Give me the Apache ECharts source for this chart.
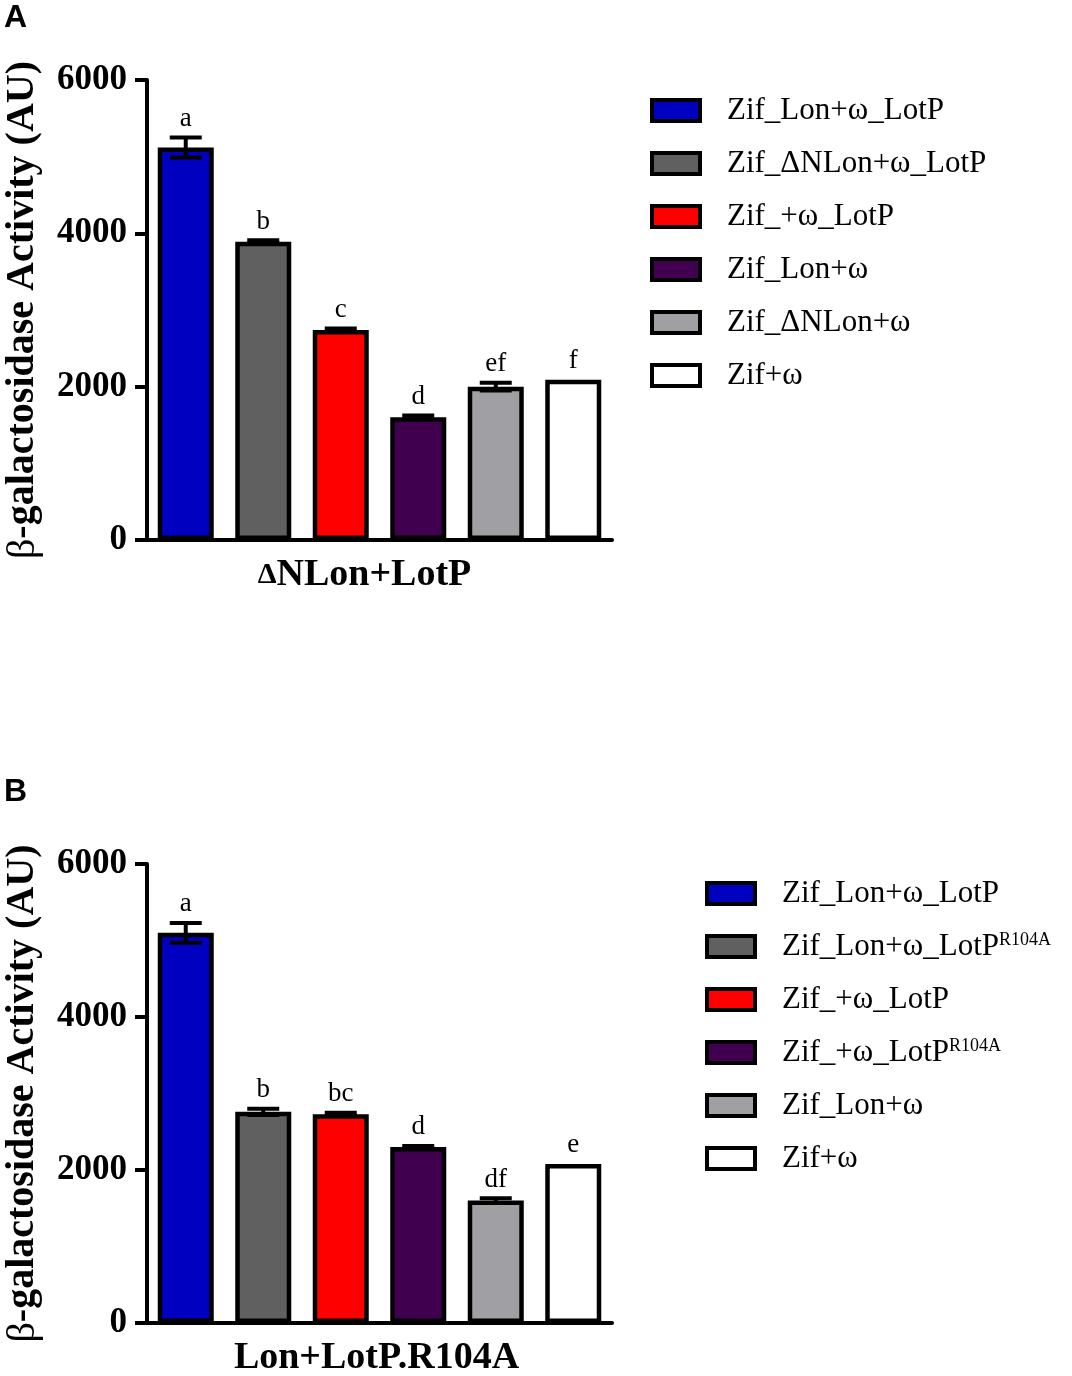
<!DOCTYPE html>
<html>
<head>
<meta charset="utf-8">
<script src="https://cdn.jsdelivr.net/npm/echarts@6/dist/echarts.min.js"></script>
<style>
  html, body { margin: 0; padding: 0; background: #fff; }
  #main { width: 1072px; height: 1376px; }
</style>
</head>
<body>
<div id="main"></div>
<script>
// panel A
var namesA = ['Zif_Lon+ω_LotP', 'Zif_ΔNLon+ω_LotP', 'Zif_+ω_LotP', 'Zif_Lon+ω', 'Zif_ΔNLon+ω', 'Zif+ω'];
var valuesA = [5120, 3890, 2740, 1600, 2000, 2090];
var errorsA = [130, 20, 20, 25, 50, 0];
var lettersA = ['a', 'b', 'c', 'd', 'ef', 'f'];
var colorsA = ['#0000c0', '#606060', '#ff0000', '#40004f', '#a0a0a4', '#ffffff'];

// panel B
var namesB = ['Zif_Lon+ω_LotP', 'Zif_Lon+ω_LotP^R104A', 'Zif_+ω_LotP', 'Zif_+ω_LotP^R104A', 'Zif_Lon+ω', 'Zif+ω'];
var valuesB = [5100, 2760, 2730, 2300, 1600, 2080];
var errorsB = [130, 40, 20, 15, 30, 0];
var lettersB = ['a', 'b', 'bc', 'd', 'df', 'e'];
var colorsB = ['#0000c0', '#606060', '#ff0000', '#40004f', '#a0a0a4', '#ffffff'];

var yTicks = { min: 0, max: 6000, interval: 2000 };
var serif = '"Liberation Serif", "Times New Roman", serif';

var myChart = echarts.init(document.getElementById('main'), null, { renderer: 'canvas' });

function barSeries(panel, names, values, colors, axisIdx) {
    return names.map(function (n, i) {
        var d = values.map(function (v, j) { return j === i ? v : null; });
        return {
            name: panel + '#' + n,
            type: 'bar',
            xAxisIndex: axisIdx,
            yAxisIndex: axisIdx,
            data: d,
            barWidth: 56,
            barGap: '-100%',
            itemStyle: { color: colors[i], borderColor: '#000', borderWidth: 4.5 },
            z: 2
        };
    });
}

function errorSeries(values, errors, letters, axisIdx) {
    return {
        type: 'custom',
        xAxisIndex: axisIdx,
        yAxisIndex: axisIdx,
        data: values.map(function (v, i) { return [i, v, errors[i]]; }),
        z: 5,
        silent: true,
        renderItem: function (params, api) {
            var i = api.value(0), v = api.value(1), e = api.value(2);
            var top = api.coord([i, v + e]);
            var bot = api.coord([i, v - e]);
            var half = 16;
            var kids = [];
            if (e > 0) {
                var st = { stroke: '#000', lineWidth: 4 };
                kids.push({ type: 'line', shape: { x1: top[0], y1: top[1], x2: bot[0], y2: bot[1] }, style: st });
                kids.push({ type: 'line', shape: { x1: top[0] - half, y1: top[1], x2: top[0] + half, y2: top[1] }, style: st });
                kids.push({ type: 'line', shape: { x1: bot[0] - half, y1: bot[1], x2: bot[0] + half, y2: bot[1] }, style: st });
            }
            kids.push({
                type: 'text',
                x: top[0],
                y: top[1] - 5,
                style: {
                    text: letters[params.dataIndex],
                    fill: '#000',
                    fontSize: 27,
                    fontFamily: serif,
                    align: 'center',
                    verticalAlign: 'bottom'
                }
            });
            return { type: 'group', children: kids };
        }
    };
}

function yAxis(gridIdx) {
    return {
        type: 'value',
        gridIndex: gridIdx,
        min: yTicks.min,
        max: yTicks.max,
        interval: yTicks.interval,
        name: '{g|β}-galactosidase Activity (AU)',
        nameLocation: 'middle',
        nameGap: 104,
        nameTextStyle: {
            color: '#000', fontFamily: serif, fontSize: 40, fontWeight: 'bold',
            rich: { g: { fontFamily: serif, fontSize: 40, fontWeight: 'normal', color: '#000' } }
        },
        axisLine: { show: true, lineStyle: { color: '#000', width: 4 } },
        axisTick: { show: true, length: 12, lineStyle: { color: '#000', width: 4 } },
        axisLabel: {
            color: '#000', fontFamily: serif, fontSize: 35, fontWeight: 'bold', margin: 20,
            formatter: function (v) { return String(v); }
        },
        splitLine: { show: false }
    };
}

function xAxis(gridIdx, name, shift) {
    return {
        type: 'category',
        gridIndex: gridIdx,
        data: ['1', '2', '3', '4', '5', '6'],
        name: name,
        nameLocation: 'middle',
        nameGap: 17,
        nameTextStyle: {
            color: '#000', fontFamily: serif, fontSize: 38, fontWeight: 'bold', verticalAlign: 'top', lineHeight: 36,
            padding: [0, shift, 0, 0],
            rich: { d: { fontFamily: serif, fontSize: 30, fontWeight: 'bold', color: '#000', lineHeight: 36 } }
        },
        axisLine: { show: true, lineStyle: { color: '#000', width: 4 } },
        axisTick: { show: false },
        axisLabel: { show: false }
    };
}

function legend(panel, names, left, top) {
    return {
        orient: 'vertical',
        left: left,
        top: top,
        padding: 0,
        itemWidth: 48,
        itemHeight: 21,
        itemGap: 22,
        icon: 'rect',
        selectedMode: false,
        itemStyle: { borderColor: '#000', borderWidth: 4 },
        data: names.map(function (n) { return panel + '#' + n; }),
        formatter: function (name) {
            var s = name.split('#')[1];
            return s.replace('^R104A', '{sup|R104A}');
        },
        textStyle: {
            color: '#000', fontFamily: serif, fontSize: 31, lineHeight: 30,
            padding: [0, 0, 0, 22],
            rich: { sup: { fontFamily: serif, fontSize: 18, lineHeight: 10, verticalAlign: 'top', color: '#000' } }
        }
    };
}

var option = {
    backgroundColor: '#fff',
    animation: false,
    grid: [
        { left: 147, top: 80, width: 465, height: 460, outerBoundsMode: 'none' },
        { left: 147, top: 864, width: 465, height: 459, outerBoundsMode: 'none' }
    ],
    xAxis: [xAxis(0, '{d|Δ}NLon+LotP', 30), xAxis(1, 'Lon+LotP.R104A', 6)],
    yAxis: [yAxis(0), yAxis(1)],
    legend: [legend('A', namesA, 650, 95), legend('B', namesB, 705, 878)],
    graphic: [
        { type: 'text', left: 4, top: 2, style: { text: 'A', fill: '#000', fontFamily: '"Liberation Sans", Arial, sans-serif', fontSize: 32, fontWeight: 'bold' } },
        { type: 'text', left: 4, top: 776, style: { text: 'B', fill: '#000', fontFamily: '"Liberation Sans", Arial, sans-serif', fontSize: 32, fontWeight: 'bold' } }
    ],
    series: []
        .concat(barSeries('A', namesA, valuesA, colorsA, 0))
        .concat(barSeries('B', namesB, valuesB, colorsB, 1))
        .concat([errorSeries(valuesA, errorsA, lettersA, 0), errorSeries(valuesB, errorsB, lettersB, 1)])
};

myChart.setOption(option);
</script>
</body>
</html>
